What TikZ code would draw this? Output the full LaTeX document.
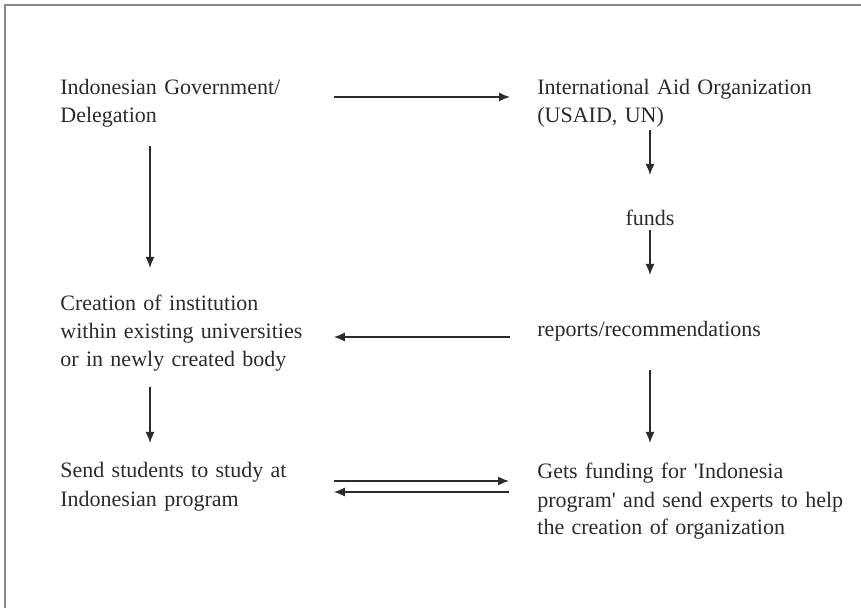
\documentclass[tikz,border=0pt]{standalone}
\usepackage{fontspec}
\setmainfont[WordSpace=0.85]{Liberation Serif}
\usetikzlibrary{arrows.meta,calc,positioning}

\definecolor{inkgray}{HTML}{2B2B2B}
\definecolor{framegray}{HTML}{8A8A8A}

\begin{document}
\begin{tikzpicture}[>={Latex[length=5.5pt,width=4.5pt]}, x=0.5pt, y=-0.5pt,
  txt/.style={anchor=base west, inner sep=0pt, align=left, text=inkgray,
    font=\fontsize{11}{14}\selectfont},
  lefttxt/.style={txt, text width=125pt},
  righttxt/.style={txt, text width=155pt},
  arr/.style={->, draw=inkgray, line width=0.75pt}]
  \useasboundingbox (0,0) rectangle (861,608);

  % Frame (only top and left edges show)
  \draw[framegray, line width=0.8pt] (5,608) -- (5,5) -- (861,5);

  % Left column
  \node[lefttxt] (gov) at (60,95) {Indonesian Government/\\Delegation};
  \node[lefttxt] (inst) at (60,311) {Creation of institution\\within existing universities\\or in newly created body};
  \node[lefttxt] (send) at (60,478) {Send students to study at\\Indonesian program};

  % Right column
  \node[righttxt] (aid) at (537,95) {International Aid Organization\\(USAID, UN)};
  \node[txt, anchor=base] (funds) at (650,226) {funds};
  \node[righttxt] (recs) at (537,337) {reports/recommendations};
  \node[righttxt] (gets) at (537,479) {Gets funding for \textquotesingle Indonesia\\program\textquotesingle{} and send experts to help\\the creation of organization};

  % Horizontal arrows
  \draw[arr] ([shift={(23,2)}]gov.base east) -- ([shift={(-27,2)}]aid.base west);
  \draw[arr] ([shift={(-27,0)}]recs.base west) -- ([shift={(23,26)}]inst.base east);
  \draw[arr] ([shift={(23,3)}]send.base east) -- ([shift={(-28,2)}]gets.base west);
  \draw[arr] ([shift={(-28,13)}]gets.base west) -- ([shift={(23,14)}]send.base east);

  % Vertical arrows
  \draw[arr] ([shift={(90,51)}]gov.base west) -- ([shift={(90,-43)}]inst.base west);
  \draw[arr] ([shift={(90,76)}]inst.base west) -- ([shift={(90,-35)}]send.base west);
  \draw[arr] ([shift={(113,35)}]aid.base west) -- ([shift={(0,-51)}]funds.base);
  \draw[arr] ([shift={(0,4)}]funds.base) -- ([shift={(113,-62)}]recs.base west);
  \draw[arr] ([shift={(113,33)}]recs.base west) -- ([shift={(113,-36)}]gets.base west);
\end{tikzpicture}
\end{document}
